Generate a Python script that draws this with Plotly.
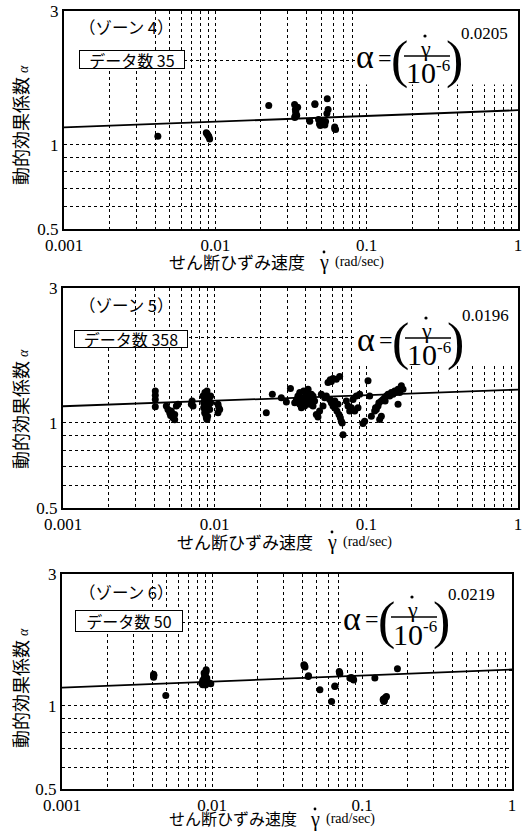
import plotly.graph_objects as go

W, H = 525, 831

# ---------------- data ----------------
x4 = [0.00417, 0.00871, 0.00889, 0.00908, 0.00917, 0.00880, 0.02254, 0.0334, 0.0338, 0.0342,
      0.0335, 0.0350, 0.0340, 0.0345, 0.0421, 0.0455, 0.0549, 0.0481, 0.0511, 0.0535,
      0.0494, 0.0546, 0.0556, 0.0623, 0.0615, 0.0500, 0.0520, 0.0505, 0.0340, 0.0455,
      0.0336, 0.0529, 0.0615, 0.0090, 0.0488]
y4 = [1.071, 1.104, 1.086, 1.066, 1.048, 1.095, 1.380, 1.391, 1.335, 1.281,
      1.250, 1.360, 1.300, 1.270, 1.212, 1.399, 1.458, 1.229, 1.180, 1.209,
      1.170, 1.292, 1.335, 1.132, 1.157, 1.200, 1.190, 1.215, 1.320, 1.390,
      1.260, 1.175, 1.140, 1.075, 1.185]

x5 = [0.00406, 0.00406, 0.00406, 0.00406,
      0.0048, 0.00492, 0.00505, 0.00512, 0.00531, 0.00545, 0.00518, 0.00545, 0.00559, 0.00573, 0.0053,
      0.00702, 0.0071, 0.0072,
      0.00838, 0.00846, 0.00859, 0.00863, 0.00872, 0.00881, 0.00881, 0.0089, 0.00899, 0.00904,
      0.00918, 0.00927, 0.0094, 0.00872, 0.00881, 0.0089, 0.00859, 0.00899, 0.00918, 0.00846,
      0.0094, 0.00863, 0.0089,
      0.01052, 0.01079, 0.01065, 0.01052,
      0.0219, 0.024, 0.0275, 0.0297, 0.0316,
      0.0337, 0.0346, 0.0354, 0.0364, 0.0373, 0.0382, 0.0386, 0.0392, 0.0402, 0.0413,
      0.0423, 0.0434, 0.0445, 0.0456, 0.0364, 0.0392, 0.0413, 0.0423, 0.0402, 0.0382,
      0.0354, 0.0434, 0.0445,
      0.0468, 0.0492, 0.0518, 0.0505, 0.0531, 0.0545, 0.0480,
      0.0559, 0.0578, 0.0603, 0.0634, 0.0667, 0.0588,
      0.0573, 0.0588, 0.0603, 0.0618, 0.0640, 0.0660, 0.0674, 0.0684, 0.0693, 0.0702, 0.0620, 0.0650,
      0.0738, 0.0757, 0.0777, 0.0797, 0.0817, 0.0838, 0.0859, 0.0881, 0.0904,
      0.0950, 0.0975, 0.1026, 0.1052,
      0.1079, 0.1135, 0.1164, 0.1194, 0.1256, 0.1288, 0.1321, 0.1355, 0.1390, 0.1425,
      0.1462, 0.1499, 0.1538, 0.1577, 0.1618, 0.1659, 0.1702, 0.1745, 0.1224, 0.1256,
      0.1618, 0.1150, 0.1210, 0.1330]
y5 = [1.297, 1.252, 1.211, 1.141,
      1.147, 1.116, 1.086, 1.062, 1.042, 1.025, 1.101, 1.071, 1.147, 1.163, 1.050,
      1.163, 1.195, 1.147,
      1.245, 1.179, 1.211, 1.280, 1.147, 1.262, 1.101, 1.228, 1.131, 1.195,
      1.163, 1.116, 1.245, 1.071, 1.042, 1.028, 1.086, 1.056, 1.211, 1.131,
      1.179, 1.163, 1.297,
      1.163, 1.116, 1.131, 1.086,
      1.086, 1.262, 1.228, 1.185, 1.323,
      1.179, 1.211, 1.245, 1.280, 1.131, 1.228, 1.297, 1.147, 1.262, 1.315,
      1.228, 1.179, 1.245, 1.195, 1.163, 1.195, 1.211, 1.163, 1.228, 1.179,
      1.195, 1.262, 1.147,
      1.071, 1.101, 1.147, 1.262, 1.228, 1.245, 1.050,
      1.389, 1.420, 1.436, 1.428, 1.460, 1.400,
      1.211, 1.179, 1.147, 1.131, 1.101, 1.071, 1.042, 1.014, 1.000, 0.9085, 1.195, 1.163,
      1.195, 1.147, 1.101, 1.131, 1.211, 1.101, 1.245, 1.131, 1.262,
      0.9945, 1.014, 1.409, 1.245,
      1.056, 1.101, 1.116, 1.147, 1.195, 1.211, 1.228, 1.245, 1.262, 1.245,
      1.280, 1.262, 1.297, 1.280, 1.315, 1.280, 1.352, 1.315, 1.028, 1.056,
      1.163, 1.131, 1.179, 1.195]

x6 = [0.00408, 0.00408, 0.00408, 0.00492,
      0.00855, 0.00868, 0.00877, 0.00886, 0.00900, 0.00914, 0.00900, 0.00923, 0.00877, 0.00886,
      0.00900, 0.00914, 0.00868, 0.00905, 0.00982, 0.0096,
      0.0410, 0.0417, 0.0412, 0.0438, 0.0524, 0.0627, 0.0659, 0.0705, 0.0712, 0.0708,
      0.0830, 0.0874, 0.0850, 0.1218, 0.1384, 0.1420, 0.1456, 0.1400, 0.1440, 0.1723,
      0.0850, 0.0880, 0.0414, 0.00890, 0.00895, 0.1410, 0.1390, 0.0660, 0.0440, 0.00410]
y6 = [1.285, 1.300, 1.270, 1.090,
      1.208, 1.192, 1.243, 1.314, 1.278, 1.332, 1.225, 1.260, 1.220, 1.200,
      1.300, 1.350, 1.235, 1.190, 1.202, 1.210,
      1.408, 1.381, 1.395, 1.278, 1.143, 1.037, 1.175, 1.332, 1.306, 1.320,
      1.260, 1.250, 1.255, 1.260, 1.051, 1.066, 1.081, 1.037, 1.075, 1.362,
      1.265, 1.240, 1.400, 1.260, 1.290, 1.045, 1.058, 1.180, 1.285, 1.290]

xs = [x4, x5, x6]
ys = [y4, y5, y6]
exponents = [0.0205, 0.0196, 0.0219]
exp_text = ["0.0205", "0.0196", "0.0219"]
zone_labels = ["（ゾーン 4）", "（ゾーン 5）", "（ゾーン 6）"]
count_labels = ["データ数 35", "データ数 358", "データ数 50"]
fit_x = [0.001, 1.0]

xtick_vals = [0.001, 0.01, 0.1, 1]
xtick_text = ["0.001", "0.01", "0.1", "1"]
ytick_vals = [0.5, 1, 3]
ytick_text = ["0.5", "1", "3"]
x_minor = [0.002, 0.003, 0.004, 0.005, 0.006, 0.007, 0.008, 0.009,
           0.02, 0.03, 0.04, 0.05, 0.06, 0.07, 0.08, 0.09,
           0.2, 0.3, 0.4, 0.5, 0.6, 0.7, 0.8, 0.9]
y_minor = [0.6, 0.7, 0.8, 0.9, 2]

# ---------------- layout geometry (pixels) ----------------
panels = [
    dict(l=64, r=518, t=11, b=229, alpha=(365, 57), ytitle=125, xtitle=(167, 261, 17), zone=(77, 27),
         box=(79, 50, 185, 69), mask_y=1.64, mask_x=0.085, zmask=0.0033),
    dict(l=63, r=518, t=288, b=508, alpha=(366, 339), ytitle=409, xtitle=(175, 541, 17), zone=(77, 305),
         box=(74, 330, 188, 348), mask_y=1.59, mask_x=0.085, zmask=0.0026),
    dict(l=62, r=512, t=574, b=789, alpha=(352, 618), ytitle=688, xtitle=(167, 818, 16), zone=(77, 592),
         box=(75, 610, 183, 632), mask_y=1.60, mask_x=0.075, zmask=0.0033),
]

def P(x):
    return x / W

def Q(y):
    return 1 - y / H

SERIF = "Liberation Serif"
CJK = "Noto Sans CJK JP"
GRID = dict(showgrid=True, gridcolor="black", gridwidth=1, griddash="3px,3px")

fig = go.Figure()
layout = dict(width=W, height=H, margin=dict(l=0, r=0, t=0, b=0, pad=0, autoexpand=False),
              paper_bgcolor="white", plot_bgcolor="white", showlegend=False)
annotations = []
shapes = []

def text_ann(text, x, y, size, family, anchor="center", **kw):
    d = dict(text=text, x=P(x), y=Q(y), xref="paper", yref="paper", xanchor=anchor,
             yanchor="middle", showarrow=False, font=dict(family=family, size=size, color="black"))
    d.update(kw)
    annotations.append(d)

def dot(x, y, r=1.6):
    shapes.append(dict(type="circle", xref="paper", yref="paper", x0=P(x - r), x1=P(x + r),
                       y0=Q(y + r), y1=Q(y - r), fillcolor="black", line=dict(width=0), layer="above"))

for i, pn in enumerate(panels):
    sfx = "" if i == 0 else str(i + 1)
    xa, ya = "x" + sfx, "y" + sfx
    fig.add_trace(go.Scatter(x=xs[i], y=ys[i], mode="markers", xaxis=xa, yaxis=ya,
                             marker=dict(color="black", size=7)))
    fit_y = [(v / 1e-6) ** exponents[i] for v in fit_x]
    fig.add_trace(go.Scatter(x=fit_x, y=fit_y, mode="lines", xaxis=xa, yaxis=ya,
                             line=dict(color="black", width=1.8)))
    common = dict(type="log", showline=True, linecolor="black", linewidth=2, mirror=True,
                  ticks="", zeroline=False, automargin=False,
                  tickfont=dict(family=SERIF, size=17, color="black"), **GRID)
    layout["xaxis" + sfx] = dict(range=[-3, 0], domain=[P(pn["l"]), P(pn["r"])], anchor=ya,
                                 tickmode="array", tickvals=xtick_vals, ticktext=xtick_text,
                                 minor=dict(tickvals=x_minor, ticks="", **GRID), **common)
    layout["yaxis" + sfx] = dict(range=[-0.30103, 0.47712], domain=[Q(pn["b"]), Q(pn["t"])], anchor=xa,
                                 tickmode="array", tickvals=ytick_vals, ticktext=ytick_text,
                                 minor=dict(tickvals=y_minor, ticks="", **GRID), **common)
    # white masks over grid (blank regions of the original)
    shapes.append(dict(type="rect", xref=xa, yref=ya, x0=pn["mask_x"], x1=1, y0=pn["mask_y"], y1=3,
                       fillcolor="white", line=dict(width=0), layer="between"))
    shapes.append(dict(type="rect", xref=xa, yref=ya, x0=0.001, x1=pn["zmask"], y0=1.85, y1=3,
                       fillcolor="white", line=dict(width=0), layer="between"))
    # zone label
    text_ann(zone_labels[i], pn["zone"][0], pn["zone"][1], 16.5, CJK, "left")
    # count box
    bx0, by0, bx1, by1 = pn["box"]
    text_ann(count_labels[i], (bx0 + bx1) / 2, (by0 + by1) / 2, 16, CJK, "center",
             width=bx1 - bx0 - 2, height=by1 - by0 - 2, bgcolor="white",
             bordercolor="black", borderwidth=1, borderpad=0)
    # formula  alpha = (gamma_dot / 10^-6)^exp
    ax, ay = pn["alpha"]
    text_ann("α", ax, ay, 34, SERIF)
    text_ann("=", ax + 20, ay + 1, 24, SERIF)
    text_ann("(", ax + 34, ay + 3, 52, SERIF)
    text_ann("γ", ax + 60, ay - 9, 22, SERIF)
    dot(ax + 60, ay - 21)
    text_ann("10", ax + 56, ay + 16, 30, SERIF)
    text_ann("-6", ax + 78, ay + 8, 17, SERIF)
    text_ann(")", ax + 89, ay + 3, 52, SERIF)
    text_ann(exp_text[i], ax + 94, ay - 24, 17, SERIF, "left")
    shapes.append(dict(type="line", xref="paper", yref="paper", x0=P(ax + 39), x1=P(ax + 85),
                       y0=Q(ay - 1), y1=Q(ay - 1), line=dict(color="black", width=1.5), layer="above"))
    # y-axis title
    text_ann("動的効果係数 <span style='font-family:Liberation Serif;font-size:14px'><i>α</i></span>",
             20, pn["ytitle"], 18, CJK, "center", textangle=-90)
    # x-axis title
    tx, ty, tfs = pn["xtitle"]
    text_ann("せん断ひずみ速度", tx, ty, tfs, CJK, "left")
    text_ann("γ", tx + 9 * tfs + 4, ty + 1, 20, SERIF)
    dot(tx + 9 * tfs + 4, ty - 9, 1.4)
    text_ann("(rad/sec)", tx + 9 * tfs + 13, ty + 1, 14, SERIF, "left")

layout["annotations"] = annotations
layout["shapes"] = shapes
fig.update_layout(**layout)
fig.write_html("out.html")
